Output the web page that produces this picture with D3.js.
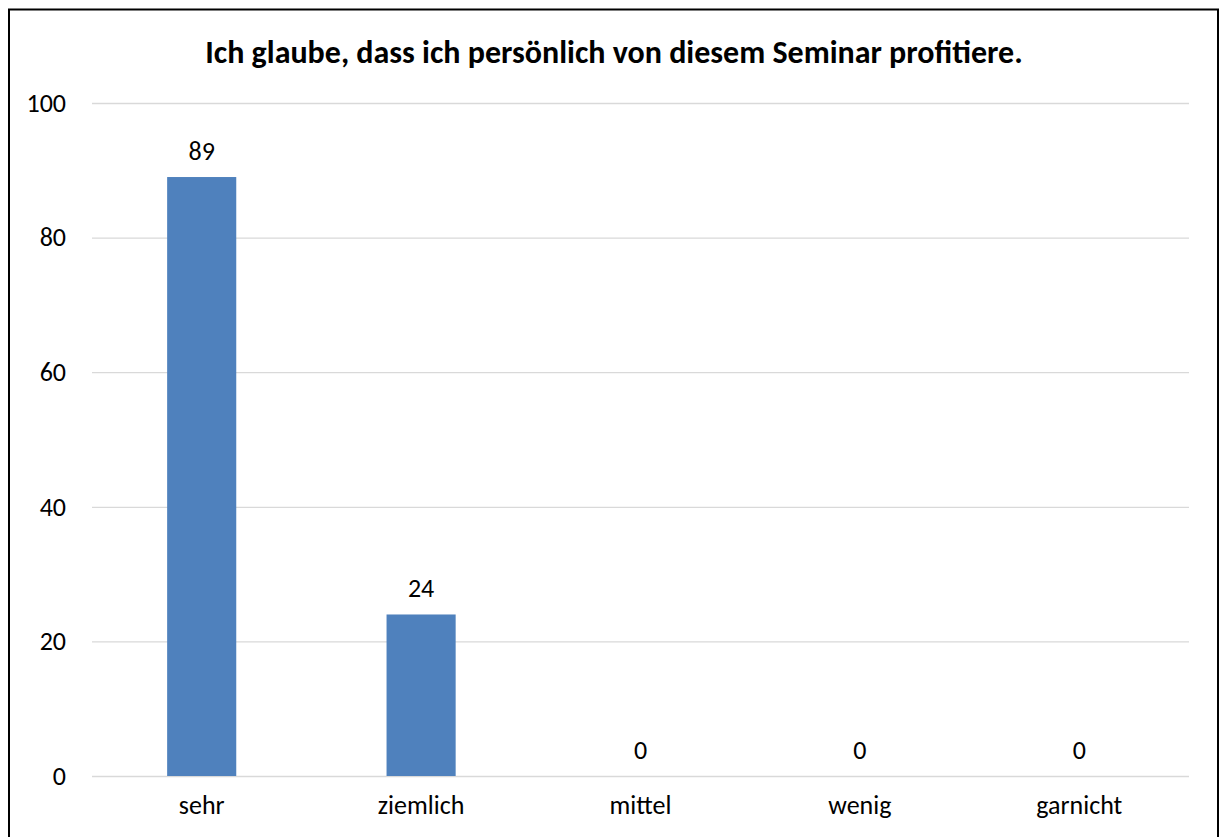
<!DOCTYPE html>
<html><head><meta charset="utf-8">
<script src="https://cdn.jsdelivr.net/npm/d3@7/dist/d3.min.js"></script>
<style>body{margin:0;background:#fff}svg{display:block}</style>
</head><body><svg id="c" width="1221" height="837"></svg>
<script>
const categories = ["sehr","ziemlich","mittel","wenig","garnicht"];
const values = [89,24,0,0,0];
const yTicks = [0,20,40,60,80,100];
const title = "Ich glaube, dass ich persönlich von diesem Seminar profitiere.";

const svg = d3.select("#c");
const font = "Calibri, Carlito, Lato, sans-serif";
svg.append("rect").attr("x",9).attr("y",9.5).attr("width",1209).attr("height",840)
  .attr("fill","#fff").attr("stroke","#000").attr("stroke-width",2);

const x = d3.scaleBand().domain(categories).range([92,1189]).paddingInner(0.685).paddingOuter(0.3425);
const y = d3.scaleLinear().domain([0,100]).range([776,103]);

svg.append("text").attr("x",614).attr("y",63).attr("text-anchor","middle")
  .attr("font-family",font).attr("font-weight","bold").attr("font-size",32).attr("fill","#000").text(title);

const yAxis = svg.append("g").attr("transform","translate(92,0)")
  .call(d3.axisLeft(y).tickValues(yTicks).tickSize(-1097).tickPadding(26));
yAxis.select(".domain").remove();
yAxis.selectAll(".tick line").attr("stroke","#d9d9d9").attr("stroke-width",1.3);
yAxis.selectAll(".tick text").attr("font-family",font).attr("font-size",26).attr("fill","#000");

const xAxis = svg.append("g").attr("transform","translate(0,776)")
  .call(d3.axisBottom(x).tickSize(0).tickPadding(20));
xAxis.select(".domain").remove();
xAxis.selectAll(".tick text").attr("font-family",font).attr("font-size",26).attr("fill","#000");

svg.selectAll(".bar").data(values).join("rect").attr("class","bar")
  .attr("x",(d,i)=>x(categories[i])).attr("width",x.bandwidth())
  .attr("y",d=>y(d)).attr("height",d=>y(0)-y(d)).attr("fill","#4F81BD");

svg.selectAll(".lbl").data(values).join("text").attr("class","lbl")
  .attr("x",(d,i)=>x(categories[i])+x.bandwidth()/2).attr("y",d=>y(d)-17)
  .attr("text-anchor","middle").attr("font-family",font).attr("font-size",26).attr("fill","#000")
  .text(d=>d);
</script></body></html>
